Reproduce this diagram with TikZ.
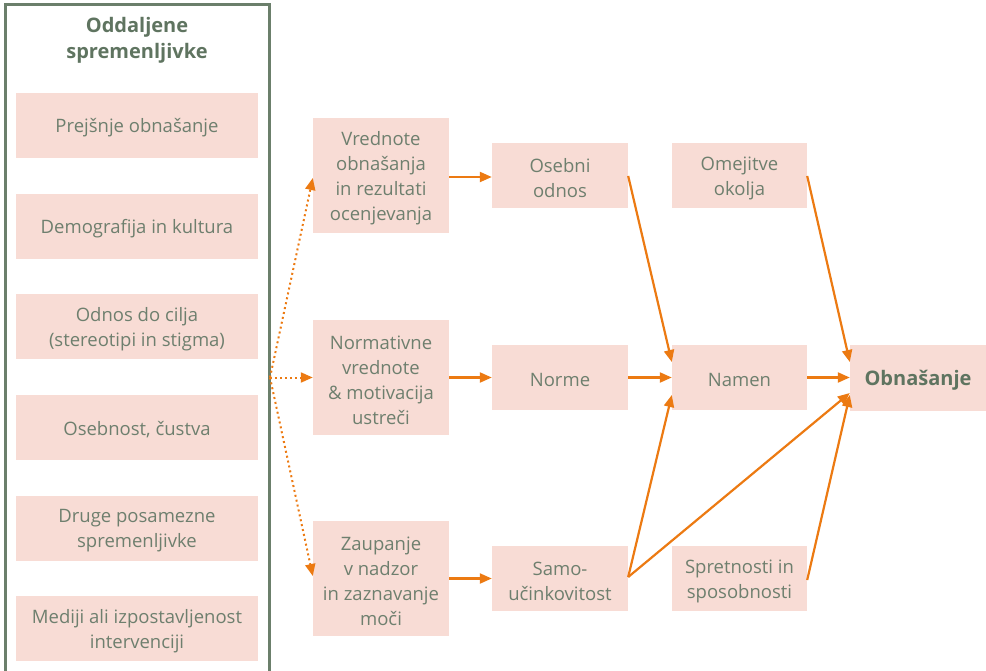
\documentclass[tikz,border=0pt]{standalone}
\usepackage{fontspec}
\setmainfont{Open Sans}
\usetikzlibrary{arrows.meta}
\definecolor{boxfill}{HTML}{F8DCD5}
\definecolor{txt}{HTML}{6E7F6E}
\definecolor{dark}{HTML}{5F7460}
\definecolor{frame}{HTML}{6B7F6B}
\definecolor{arr}{HTML}{EC7A12}
\tikzset{
  bx/.style={fill=boxfill, inner sep=0pt},
  wide/.style={bx, minimum width=242pt, minimum height=65pt},
  tall/.style={bx, minimum width=136pt, minimum height=115pt},
  small/.style={bx, minimum width=136pt, minimum height=65pt},
  tx/.style={text=txt, align=center, inner sep=0pt, yshift=-2.5pt, font=\fontsize{18.5}{25}\selectfont},
  btx/.style={tx, text=dark, font=\bfseries\fontsize{20}{25}\selectfont},
  conn/.style={draw=arr, line width=2.2pt, -{Triangle[length=12pt,width=10pt]}},
  dotconn/.style={draw=arr, line width=2pt, dash pattern=on 2pt off 3pt, -{Triangle[length=12pt,width=10pt]}},
}
\begin{document}
\begin{tikzpicture}[x=1pt,y=-1pt]
\useasboundingbox (0,0) rectangle (986,671);
% frame
\draw[frame, line width=3pt] (5,680) -- (5,5) -- (269,5) -- (269,680);
\node[text=dark, font=\bfseries\fontsize{20}{26}\selectfont, align=center] (title) at (137,40) {Oddaljene\\spremenljivke};
% left column
\node[wide] (l1) at (137,125.5) {};
\node[tx] (l1t) at (l1) {Prejšnje obnašanje};
\node[wide] (l2) at (137,226.5) {};
\node[tx] (l2t) at (l2) {Demografija in kultura};
\node[wide] (l3) at (137,326.5) {};
\node[tx] (l3t) at (l3) {Odnos do cilja\\(stereotipi in stigma)};
\node[wide] (l4) at (137,427.5) {};
\node[tx] (l4t) at (l4) {Osebnost, čustva};
\node[wide] (l5) at (137,528.5) {};
\node[tx] (l5t) at (l5) {Druge posamezne\\spremenljivke};
\node[wide] (l6) at (137,628.5) {};
\node[tx] (l6t) at (l6) {Mediji ali izpostavljenost\\intervenciji};
% column 2
\node[tall] (vr) at (381,175.5) {};
\node[tx] (vrt) at (vr) {Vrednote\\obnašanja\\in rezultati\\ocenjevanja};
\node[tall] (nv) at (381,377.5) {};
\node[tx] (nvt) at (nv) {Normativne\\vrednote\\\& motivacija\\ustreči};
\node[tall] (za) at (381,578.5) {};
\node[tx] (zat) at (za) {Zaupanje\\v nadzor\\in zaznavanje\\moči};
% column 3
\node[small] (os) at (560,175.5) {};
\node[tx] (ost) at (os) {Osebni\\odnos};
\node[small] (no) at (560,377.5) {};
\node[tx] (not) at (no) {Norme};
\node[small] (sa) at (560,578.5) {};
\node[tx] (sat) at (sa) {Samo-\\učinkovitost};
% column 4
\node[small, minimum width=135pt] (om) at (739.5,175.5) {};
\node[tx] (omt) at (om) {Omejitve\\okolja};
\node[small, minimum width=135pt] (na) at (739.5,377.5) {};
\node[tx] (nat) at (na) {Namen};
\node[small, minimum width=135pt] (sp) at (739.5,578.5) {};
\node[tx] (spt) at (sp) {Spretnosti in\\sposobnosti};
% behaviour
\node[small, minimum height=66pt] (ob) at (918,377.5) {};
\node[btx] (obt) at (ob) {Obnašanje};
% dotted connectors
\coordinate (src) at (270,377.5);
\draw[dotconn] (src) -- (vr.west |- 0,178);
\draw[dotconn] (src) -- (nv.west);
\draw[dotconn] (src) -- (za.west |- 0,576);
% solid connectors
\draw[conn] (vr.east |- 0,177) -- (os.west |- 0,177);
\draw[conn] (nv.east) -- (no.west);
\draw[conn] (za.east) -- (sa.west);
\draw[conn] (os.east |- 0,176) -- (na.west |- 0,362);
\draw[conn] (no.east) -- (na.west);
\draw[conn] (sa.east |- 0,577) -- (na.west |- 0,395);
\draw[conn] (sa.east |- 0,577) -- (ob.west |- 0,393);
\draw[conn] (om.east |- 0,176) -- (ob.west |- 0,362);
\draw[conn] (na.east) -- (ob.west);
\draw[conn] (sp.east |- 0,580) -- (ob.west |- 0,395);
\end{tikzpicture}
\end{document}
